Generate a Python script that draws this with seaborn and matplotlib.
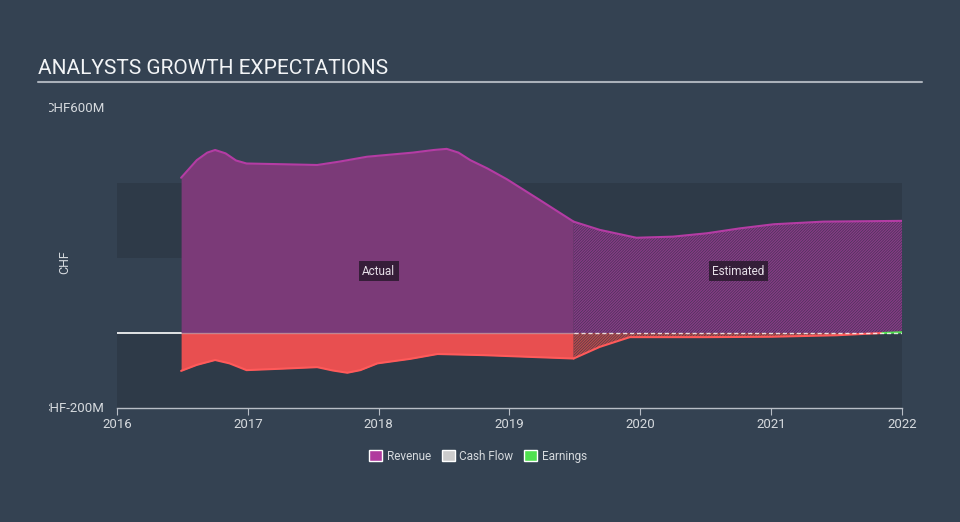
import matplotlib
matplotlib.use("Agg")
import matplotlib.pyplot as plt
from matplotlib.lines import Line2D
from matplotlib.patches import Patch
from matplotlib.transforms import Bbox
import seaborn as sns

# data (CHF millions)
rev_years = [2016.49, 2016.61, 2016.69, 2016.75, 2016.83, 2016.91, 2016.99, 2017.27, 2017.53,
             2017.70, 2017.91, 2018.26, 2018.42, 2018.52, 2018.61, 2018.70, 2018.83, 2018.98,
             2019.23, 2019.49]
rev_vals = [414, 461, 481, 488, 479, 460, 452, 450, 448, 457, 470, 481, 488, 491, 481, 461,
            439, 410, 355, 297]

est_years = [2019.49, 2019.69, 2019.97, 2020.25, 2020.51, 2020.76, 2021.02, 2021.40, 2022.0]
est_rev = [297, 275, 254, 257, 266, 279, 290, 297, 299]

earn_years = [2016.49, 2016.61, 2016.75, 2016.86, 2016.99, 2017.27, 2017.53, 2017.65, 2017.76,
              2017.86, 2017.99, 2018.24, 2018.45, 2018.80, 2019.49]
earn_vals = [-101, -85, -72, -81, -99, -95, -91, -100, -106, -99, -81, -69, -56, -59, -68]

est_earn_years = [2019.49, 2019.69, 2019.92, 2020.5, 2021.0, 2021.5, 2021.85, 2022.0]
est_earn = [-68, -37, -11, -11, -10, -6, 0, 2]

x_ticks = [2016, 2017, 2018, 2019, 2020, 2021, 2022]
y_labels = {600: "CHF600M", -200: "CHF-200M"}

BG = "#344252"
BAND = "#2e3a48"
PURPLE = "#7b3a78"
PURPLE_LINE = "#b43ca4"
RED = "#e84f50"
RED_LINE = "#ff5a5a"
GREEN = "#4fe04f"
TXT = "#d6dade"

sns.set_style("dark", rc={"axes.facecolor": BG, "figure.facecolor": BG})
plt.rcParams["font.family"] = ["Roboto", "DejaVu Sans"]
plt.rcParams["hatch.linewidth"] = 1.0

fig = plt.figure(figsize=(9.6, 5.22), dpi=100)
ax = fig.add_axes([117 / 960, 1 - 408 / 522, 785 / 960, 300 / 522])
ax.set_xlim(2016, 2022)
ax.set_ylim(-200, 600)

# alternating bands
ax.axhspan(200, 400, color=BAND, lw=0, zorder=0)
ax.axhspan(-200, 0, color=BAND, lw=0, zorder=0)

# actual revenue / earnings
ax.fill_between(rev_years, 0, rev_vals, color=PURPLE, lw=0, zorder=2)
sns.lineplot(x=rev_years, y=rev_vals, ax=ax, color=PURPLE_LINE, lw=1.5, zorder=3)
ax.fill_between(earn_years, 0, earn_vals, color=RED, lw=0, zorder=2)
sns.lineplot(x=earn_years, y=earn_vals, ax=ax, color=RED_LINE, lw=1.5, zorder=3)

# estimated (hatched)
ax.fill_between(est_years, 0, est_rev, facecolor="#3e3050",
                edgecolor="#863c85", hatch="/" * 12, lw=0, zorder=2)
sns.lineplot(x=est_years, y=est_rev, ax=ax, color=PURPLE_LINE, lw=1.5, zorder=3)
neg_y = [min(v, 0) for v in est_earn]
ax.fill_between(est_earn_years, 0, neg_y, facecolor="#3e3a48",
                edgecolor="#b84a4c", hatch="/" * 12, lw=0, zorder=2)
sns.lineplot(x=est_earn_years[:-1], y=est_earn[:-1], ax=ax, color=RED_LINE, lw=1.5, zorder=3)
sns.lineplot(x=est_earn_years[-2:], y=est_earn[-2:], ax=ax, color=GREEN, lw=1.5, zorder=3)

# zero line
ax.plot([2016, 2016.49], [0, 0], color="white", lw=1.2, zorder=4)
ax.plot([2016.49, 2019.49], [0, 0], color="white", lw=1.0, alpha=0.35, zorder=4)
ax.plot([2019.49, 2022], [0, 0], color="white", lw=1.0, ls=(0, (3, 2)), alpha=0.8, zorder=4)

# region labels
for xx, lab in [(2018.0, "Actual"), (2020.75, "Estimated")]:
    ax.text(xx, 165, lab, ha="center", va="center", color="#e6e0e8", fontsize=8.5, zorder=5,
            bbox=dict(boxstyle="square,pad=0.3", fc="#2a1a2e", ec="none", alpha=0.85))

# axes styling
for s in ["top", "right", "left"]:
    ax.spines[s].set_visible(False)
ax.spines["bottom"].set_color("#b8bec6")
ax.spines["bottom"].set_linewidth(1)
ax.set_xticks(x_ticks)
ax.set_xticklabels([str(t) for t in x_ticks])
ax.tick_params(axis="x", colors="#b8bec6", labelcolor=TXT, labelsize=9.5, length=5,
               direction="out", bottom=True, pad=2)
ax.set_yticks([])
ax.grid(False)

# y labels clipped at the left edge like the reference
clip = Bbox.from_extents(49, 0, 960, 522)
for val, lab in y_labels.items():
    t = ax.text(-0.016, val, lab, transform=ax.get_yaxis_transform(), ha="right", va="center",
                color=TXT, fontsize=9.5)
    t.set_clip_box(clip)
    t.set_clip_on(True)
fig.text(65 / 960, 1 - 262 / 522, "CHF", rotation=90, ha="center", va="center",
         color=TXT, fontsize=9)

# title
fig.text(38 / 960, 1 - 68 / 522, "ANALYSTS GROWTH EXPECTATIONS", ha="left", va="center",
         color="#f2f4f6", fontsize=15)
fig.add_artist(Line2D([38 / 960, 922 / 960], [1 - 82 / 522, 1 - 82 / 522],
                      color="#aab1ba", lw=1.5))

# legend
handles = [Patch(facecolor="#b03a9e", label="Revenue"),
           Patch(facecolor="#cccccc", label="Cash Flow"),
           Patch(facecolor=GREEN, label="Earnings")]
leg = fig.legend(handles=handles, loc="center", bbox_to_anchor=(478 / 960, 1 - 456 / 522),
                 ncol=3, frameon=False, fontsize=8.5, handlelength=1.1, handleheight=1.1,
                 handletextpad=0.4, columnspacing=0.9)
for t in leg.get_texts():
    t.set_color(TXT)

fig.savefig("out.png", dpi=100, facecolor=BG)
